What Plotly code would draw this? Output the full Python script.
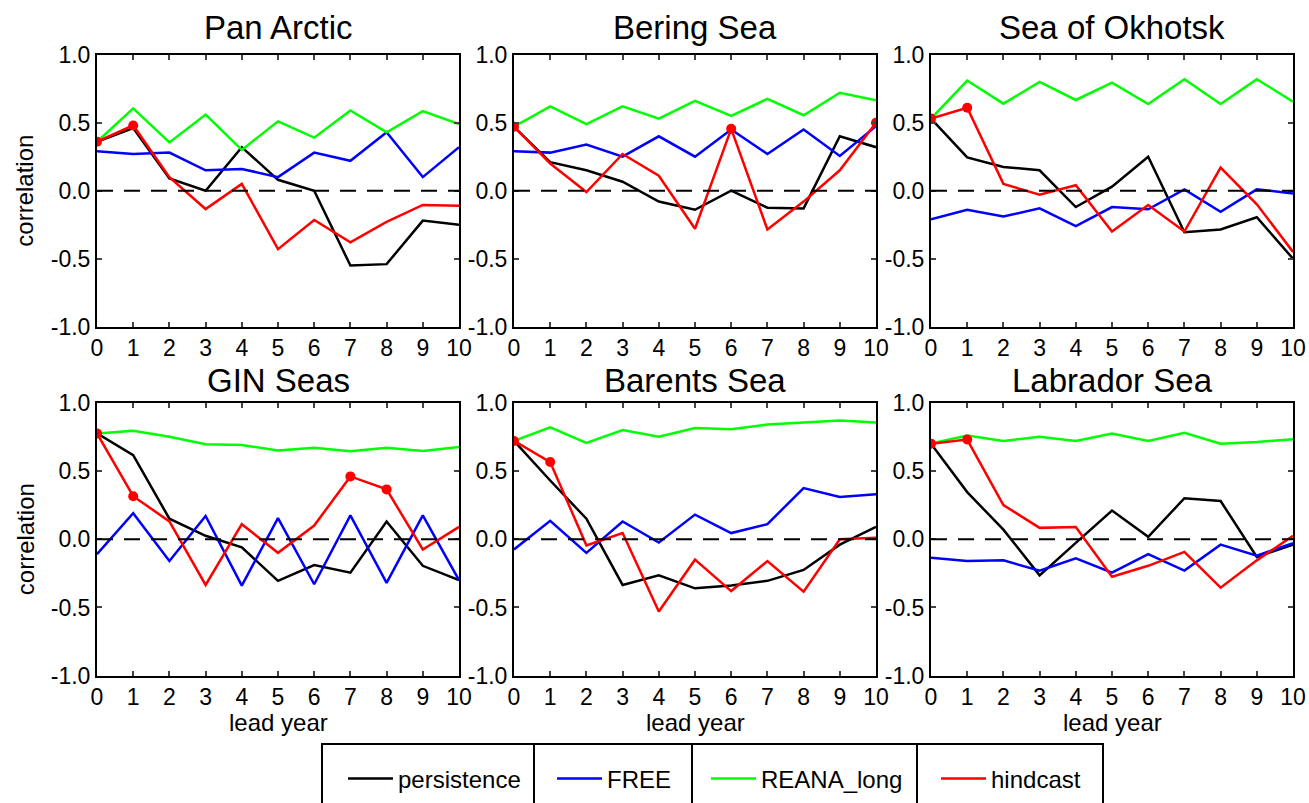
import plotly.graph_objects as go
from plotly.subplots import make_subplots

LEAD = list(range(11))
REGIONS = ["Pan Arctic", "Bering Sea", "Sea of Okhotsk",
           "GIN Seas", "Barents Sea", "Labrador Sea"]

PERSISTENCE = {
    "Pan Arctic":     [0.36, 0.46, 0.09, 0.00, 0.32, 0.08, 0.00, -0.55, -0.54, -0.22, -0.25],
    "Bering Sea":     [0.47, 0.21, 0.15, 0.066, -0.08, -0.14, 0.00, -0.125, -0.13, 0.40, 0.32],
    "Sea of Okhotsk": [0.53, 0.245, 0.175, 0.15, -0.12, 0.03, 0.25, -0.305, -0.285, -0.195, -0.50],
    "GIN Seas":       [0.775, 0.615, 0.15, 0.025, -0.06, -0.305, -0.19, -0.245, 0.13, -0.195, -0.30],
    "Barents Sea":    [0.72, 0.43, 0.15, -0.335, -0.265, -0.36, -0.34, -0.305, -0.225, -0.04, 0.09],
    "Labrador Sea":   [0.70, 0.345, 0.07, -0.265, -0.027, 0.21, 0.017, 0.30, 0.28, -0.13, -0.04],
}

FREE = {
    "Pan Arctic":     [0.29, 0.27, 0.28, 0.15, 0.16, 0.10, 0.28, 0.22, 0.43, 0.10, 0.32],
    "Bering Sea":     [0.29, 0.28, 0.34, 0.25, 0.40, 0.25, 0.45, 0.27, 0.45, 0.255, 0.475],
    "Sea of Okhotsk": [-0.21, -0.14, -0.19, -0.13, -0.26, -0.12, -0.137, 0.01, -0.155, 0.01, -0.02],
    "GIN Seas":       [-0.11, 0.19, -0.16, 0.17, -0.34, 0.155, -0.33, 0.175, -0.32, 0.175, -0.30],
    "Barents Sea":    [-0.075, 0.135, -0.10, 0.13, -0.025, 0.18, 0.045, 0.11, 0.375, 0.31, 0.33],
    "Labrador Sea":   [-0.135, -0.16, -0.155, -0.23, -0.14, -0.245, -0.11, -0.23, -0.04, -0.12, -0.03],
}

REANA_LONG = {
    "Pan Arctic":     [0.36, 0.605, 0.355, 0.56, 0.30, 0.51, 0.39, 0.59, 0.43, 0.585, 0.49],
    "Bering Sea":     [0.47, 0.62, 0.49, 0.62, 0.53, 0.66, 0.55, 0.675, 0.555, 0.72, 0.665],
    "Sea of Okhotsk": [0.53, 0.81, 0.64, 0.80, 0.667, 0.795, 0.637, 0.82, 0.637, 0.82, 0.655],
    "GIN Seas":       [0.775, 0.795, 0.75, 0.695, 0.69, 0.65, 0.67, 0.645, 0.67, 0.647, 0.675],
    "Barents Sea":    [0.72, 0.82, 0.705, 0.80, 0.75, 0.815, 0.805, 0.84, 0.855, 0.87, 0.855],
    "Labrador Sea":   [0.70, 0.76, 0.72, 0.75, 0.72, 0.775, 0.72, 0.78, 0.70, 0.713, 0.733],
}

HINDCAST = {
    "Pan Arctic":     [0.36, 0.48, 0.10, -0.135, 0.05, -0.43, -0.215, -0.38, -0.23, -0.105, -0.11],
    "Bering Sea":     [0.47, 0.20, -0.01, 0.27, 0.11, -0.28, 0.455, -0.285, -0.08, 0.15, 0.50],
    "Sea of Okhotsk": [0.53, 0.61, 0.05, -0.03, 0.04, -0.30, -0.105, -0.30, 0.17, -0.10, -0.45],
    "GIN Seas":       [0.775, 0.315, 0.13, -0.335, 0.11, -0.10, 0.10, 0.46, 0.365, -0.075, 0.09],
    "Barents Sea":    [0.72, 0.565, -0.045, 0.045, -0.53, -0.15, -0.38, -0.16, -0.385, 0.00, 0.01],
    "Labrador Sea":   [0.70, 0.73, 0.25, 0.083, 0.09, -0.275, -0.195, -0.093, -0.355, -0.155, 0.025],
}

# lead years where the hindcast skill is marked with a dot
HINDCAST_DOTS = {
    "Pan Arctic": [0, 1],
    "Bering Sea": [0, 6, 10],
    "Sea of Okhotsk": [0, 1],
    "GIN Seas": [0, 1, 7, 8],
    "Barents Sea": [0, 1],
    "Labrador Sea": [0, 1],
}

Y_TICKS = [-1.0, -0.5, 0.0, 0.5, 1.0]
Y_TICKTEXT = ["-1.0", "-0.5", "0.0", "0.5", "1.0"]
X_TICKS = LEAD

SERIES = [
    ("persistence", PERSISTENCE, "#000000", "legend"),
    ("FREE", FREE, "#0000ff", "legend2"),
    ("REANA_long", REANA_LONG, "#00ff00", "legend3"),
    ("hindcast", HINDCAST, "#ff0000", "legend4"),
]

W, H = 1309, 803
FONT = "Liberation Sans, Arial, Helvetica, sans-serif"

# panel frames in pixels
COLS = [(97, 459), (514, 876), (931, 1293)]
ROWS = [(54.7, 326.7), (402.7, 675.7)]
TITLE_Y = [27.7, 380]


def px_x(p):
    return p / W


def px_y(p):
    return 1 - p / H


fig = make_subplots(rows=2, cols=3)

for i, region in enumerate(REGIONS):
    r, c = i // 3 + 1, i % 3 + 1
    for name, data, color, leg in SERIES:
        fig.add_trace(go.Scatter(
            x=LEAD, y=data[region], mode="lines", name=name,
            line=dict(color=color, width=2.5),
            legend=leg, showlegend=(i == 0),
        ), row=r, col=c)
    dots = HINDCAST_DOTS[region]
    fig.add_trace(go.Scatter(
        x=[LEAD[k] for k in dots], y=[HINDCAST[region][k] for k in dots],
        mode="markers", marker=dict(color="#ff0000", size=10),
        showlegend=False, hoverinfo="skip",
    ), row=r, col=c)

    ax = "" if i == 0 else str(i + 1)
    # dashed zero reference line
    fig.add_shape(type="line", xref=f"x{ax}", yref=f"y{ax}",
                  x0=0, x1=10, y0=0, y1=0,
                  line=dict(color="black", width=2, dash="16px,11px"))

    (x0, x1), (y0, y1) = COLS[c - 1], ROWS[r - 1]
    fig.update_xaxes(
        domain=[px_x(x0), px_x(x1)], range=[0, 10],
        tickvals=X_TICKS, ticks="inside", ticklen=5, tickwidth=1.5,
        showline=True, linecolor="black", linewidth=2, mirror="ticks",
        showgrid=False, zeroline=False, automargin=False,
        tickfont=dict(family=FONT, size=23, color="black"),
        row=r, col=c)
    fig.update_yaxes(
        domain=[px_y(y1), px_y(y0)], range=[-1, 1],
        tickvals=Y_TICKS, ticktext=Y_TICKTEXT,
        ticks="inside", ticklen=5, tickwidth=1.5,
        showline=True, linecolor="black", linewidth=2, mirror="ticks",
        showgrid=False, zeroline=False, automargin=False,
        tickfont=dict(family=FONT, size=23, color="black"),
        row=r, col=c)

    cx = (x0 + x1) / 2
    fig.add_annotation(text=region, x=px_x(cx), y=px_y(TITLE_Y[r - 1]),
                       xref="paper", yref="paper", showarrow=False,
                       xanchor="center", yanchor="middle",
                       font=dict(family=FONT, size=33, color="black"))
    if r == 2:
        fig.add_annotation(text="lead year", x=px_x(cx), y=px_y(722),
                           xref="paper", yref="paper", showarrow=False,
                           xanchor="center", yanchor="middle",
                           font=dict(family=FONT, size=24, color="black"))
    if c == 1:
        fig.add_annotation(text="correlation", x=px_x(25), y=px_y((y0 + y1) / 2),
                           xref="paper", yref="paper", showarrow=False,
                           textangle=-90, xanchor="center", yanchor="middle",
                           font=dict(family=FONT, size=24, color="black"))

# legend frame with cell dividers
LEG_LEFT, LEG_RIGHT, LEG_TOP = 322, 1103, 744
LEG_DIVIDERS = [534, 692, 917]
frame = dict(color="black", width=2)
fig.add_shape(type="rect", xref="paper", yref="paper",
              x0=px_x(LEG_LEFT), x1=px_x(LEG_RIGHT), y0=px_y(LEG_TOP), y1=-0.05,
              line=frame)
for d in LEG_DIVIDERS:
    fig.add_shape(type="line", xref="paper", yref="paper",
                  x0=px_x(d), x1=px_x(d), y0=px_y(LEG_TOP), y1=-0.05, line=frame)

legend_style = dict(font=dict(family=FONT, size=24, color="black"),
                    bgcolor="rgba(0,0,0,0)", borderwidth=0,
                    xanchor="left", yanchor="middle", y=px_y(779),
                    itemwidth=45, tracegroupgap=0)
LEG_X = [343, 552, 706, 936]
fig.update_layout(
    legend=dict(x=px_x(LEG_X[0]), **legend_style),
    legend2=dict(x=px_x(LEG_X[1]), **legend_style),
    legend3=dict(x=px_x(LEG_X[2]), **legend_style),
    legend4=dict(x=px_x(LEG_X[3]), **legend_style),
)

fig.update_layout(
    width=W, height=H,
    margin=dict(l=0, r=0, t=0, b=0, pad=0, autoexpand=False),
    paper_bgcolor="white", plot_bgcolor="white",
    font=dict(family=FONT, color="black"),
)

fig.write_html("out.html")
